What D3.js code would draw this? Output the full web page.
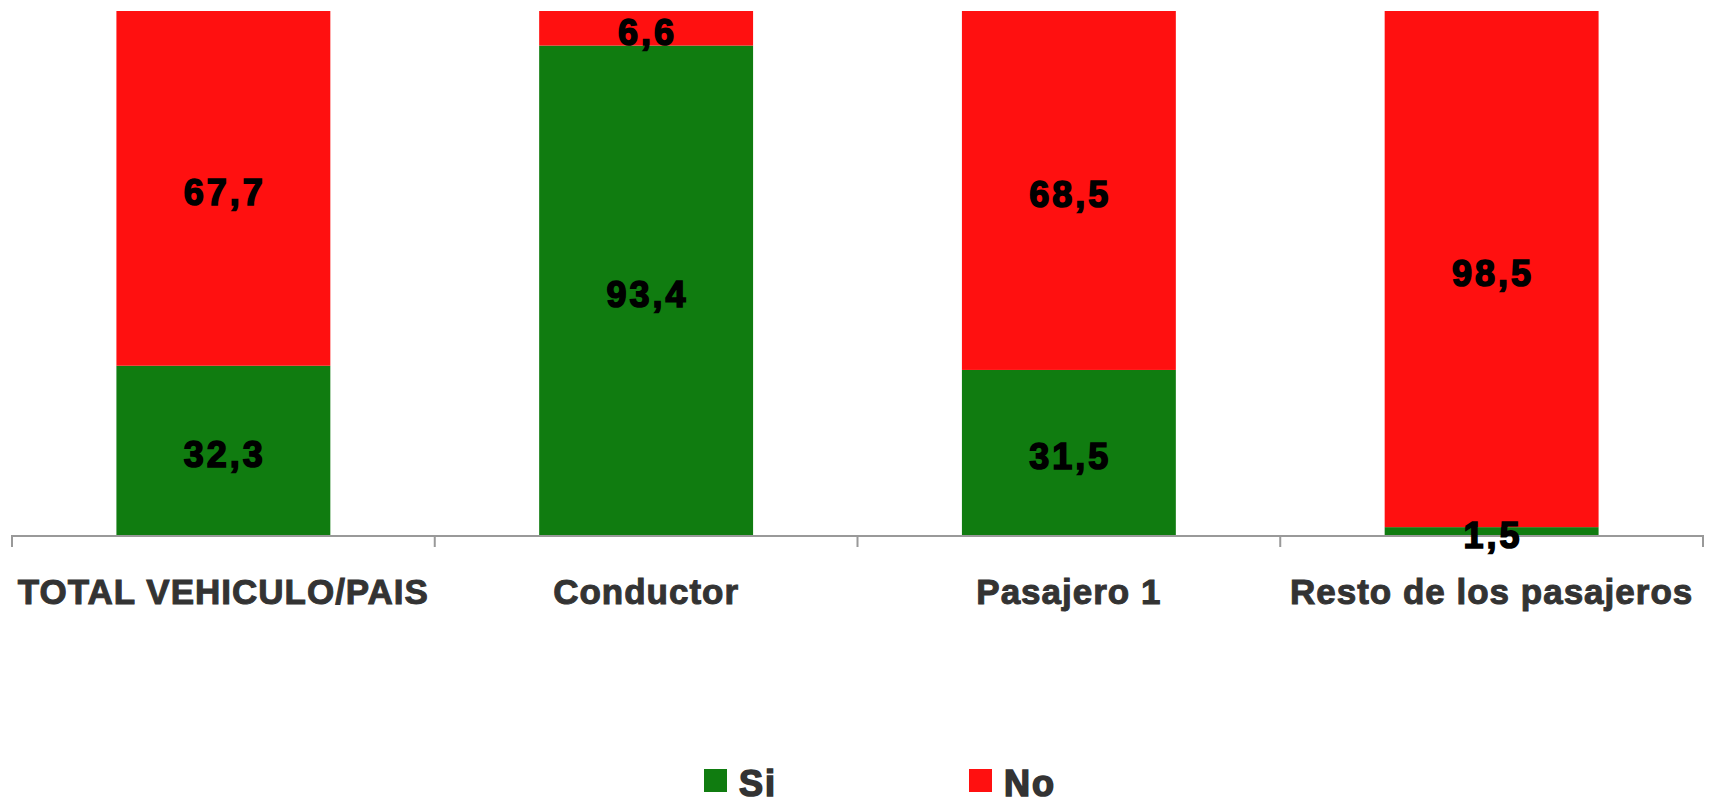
<!doctype html>
<html>
  <head>
    <meta charset="utf-8">
    <script src="https://cdn.jsdelivr.net/npm/d3@7"></script>
    <style>
      body { margin: 0; background: #ffffff; }
      svg { display: block; }
      .cat { font-family: "Liberation Sans", Arial, sans-serif; font-weight: bold; font-size: 35px; fill: #333333; stroke: #333333; stroke-width: 1px; letter-spacing: 1px; }
      .val { font-family: "Liberation Sans", Arial, sans-serif; font-weight: bold; font-size: 36px; fill: #000000; stroke: #000000; stroke-width: 1.6px; letter-spacing: 3px; }
      .legtxt { font-family: "Liberation Sans", Arial, sans-serif; font-weight: bold; font-size: 36px; fill: #333333; stroke: #333333; stroke-width: 1.6px; letter-spacing: 2px; }
    </style>
  </head>
  <body>
    <svg></svg>
    <script>
      // datos del grafico
      var categorias = ["TOTAL VEHICULO/PAIS", "Conductor", "Pasajero 1", "Resto de los pasajeros"];
      var serieSi = [32.3, 93.4, 31.5, 1.5];
      var serieNo = [67.7, 6.6, 68.5, 98.5];
      var series = ["Si", "No"];
      var colores = ["#107c10", "#ff1010"];

      var width = 1719, height = 808;
      var svg = d3.select("svg").attr("width", width).attr("height", height);

      var x = d3.scaleBand().domain(categorias).range([12, 1703]).paddingInner(0.494).paddingOuter(0.247);
      var y = d3.scaleLinear().domain([0, 100]).range([535, 11]);

      // tabla apilada
      var tabla = categorias.map(function(c, i) { return { cat: c, Si: serieSi[i], No: serieNo[i] }; });
      var pila = d3.stack().keys(series)(tabla);

      var grupos = svg.selectAll("g.serie").data(pila).enter()
        .append("g").attr("class", "serie")
        .attr("fill", function(d, i) { return colores[i]; });

      grupos.selectAll("rect").data(function(d) { return d; }).enter()
        .append("rect")
          .attr("x", function(d) { return x(d.data.cat); })
          .attr("y", function(d) { return y(d[1]); })
          .attr("width", x.bandwidth())
          .attr("height", function(d) { return y(d[0]) - y(d[1]); });

      // eje x
      var ejeX = d3.axisBottom(x).tickSize(0).tickFormat("");
      var gEje = svg.append("g").attr("transform", "translate(0," + 536 + ")").call(ejeX);
      gEje.select(".domain").attr("stroke", "#999999").attr("stroke-width", 2).attr("d", "M12,11V0H1703V11");
      // marcas entre categorias
      var bordes = categorias.slice(1).map(function(c) { return x(c) - x.step() * x.paddingInner() / 2; });
      gEje.selectAll("line.sep").data(bordes).enter()
        .append("line").attr("class", "sep")
          .attr("x1", function(d) { return d; }).attr("x2", function(d) { return d; })
          .attr("y1", 0).attr("y2", 11)
          .attr("stroke", "#999999").attr("stroke-width", 2);

      // etiquetas de categoria
      svg.selectAll("text.cat").data(categorias).enter()
        .append("text").attr("class", "cat")
          .attr("x", function(d) { return x(d) + x.bandwidth() / 2; })
          .attr("y", 604)
          .attr("text-anchor", "middle")
          .text(function(d) { return d; });

      // valores (encima de todas las barras y del eje)
      var etiquetas = svg.append("g");
      pila.forEach(function(s) {
        etiquetas.selectAll(null).data(s).enter()
          .append("text").attr("class", "val")
            .attr("x", function(d) { return x(d.data.cat) + x.bandwidth() / 2 + 1.5; })
            .attr("y", function(d) { return (y(d[0]) + y(d[1])) / 2 + 17; })
            .attr("text-anchor", "middle")
            .text(function(d) { return d3.format(".1f")(d[1] - d[0]).replace(".", ","); });
      });

      // leyenda
      var legX = [704, 969];
      var leg = svg.selectAll("g.leyenda").data(series).enter()
        .append("g").attr("class", "leyenda")
          .attr("transform", function(d, i) { return "translate(" + legX[i] + ",769)"; });
      leg.append("rect").attr("width", 23).attr("height", 23)
        .attr("fill", function(d, i) { return colores[i]; });
      leg.append("text").attr("class", "legtxt").attr("x", 35).attr("y", 27)
        .text(function(d) { return d; });
    </script>
  </body>
</html>
